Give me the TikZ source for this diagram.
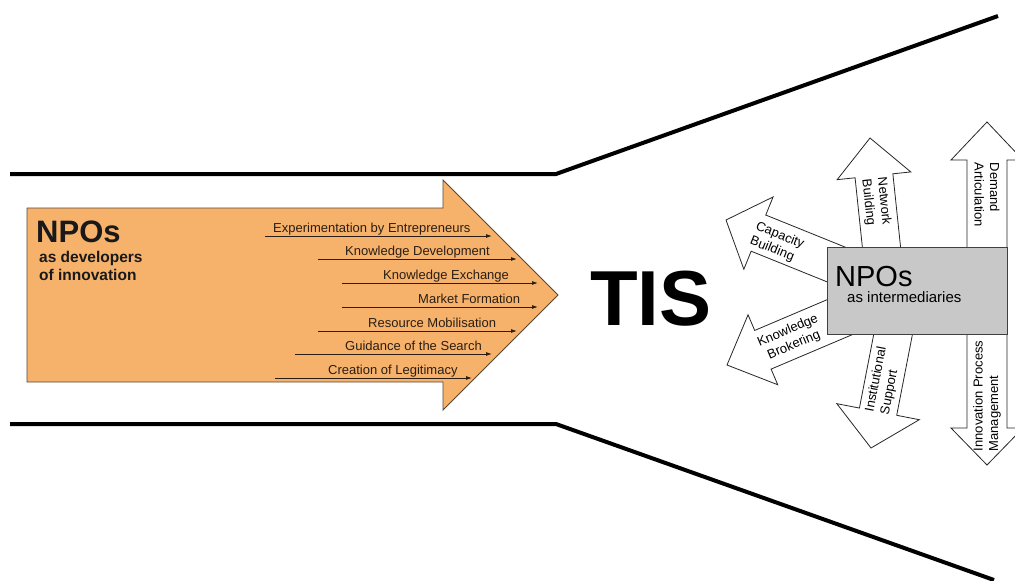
\documentclass[tikz,border=0pt]{standalone}
\usepackage{fontspec}
\setmainfont{Liberation Sans}
\usetikzlibrary{arrows.meta}
\definecolor{orangefill}{HTML}{F6B26B}
\definecolor{orangeline}{HTML}{5B4636}
\definecolor{boxgray}{HTML}{C8C8C8}
\definecolor{txtdark}{HTML}{2A1E14}
\tikzset{
  funnel/.style={line width=4pt, black, line join=miter},
  fnlab/.style={anchor=base west, inner sep=0pt, text=txtdark, font=\fontsize{13}{15}\selectfont},
  fnarrow/.style={line width=0.9pt, txtdark, -{Latex[length=6pt,width=4pt]}},
  blockarrow/.style={draw=black!85, fill=white, line width=0.8pt, line join=miter},
  blocklab/.style={inner sep=0pt, font=\fontsize{13}{15.5}\selectfont},
  devlab/.style={anchor=base west, inner sep=0pt, text=black!90, font=\fontsize{15.5}{18}\selectfont\bfseries},
}
\newcommand{\blockarr}[6]{%
  \begin{scope}[shift={(#1)},rotate=#2]
    \draw[blockarrow] (0,0) -- (#3,#4) -- (#3,#5) -- (#6,#5) -- (#6,-#5) -- (#3,-#5) -- (#3,-#4) -- cycle;
  \end{scope}}
\begin{document}
\begin{tikzpicture}[x=1pt,y=-1pt]
\useasboundingbox (0,0) rectangle (1015,581);
\fill[white] (0,0) rectangle (1015,581);
\clip (0,0) rectangle (1015,581);

% funnel
\coordinate (tl) at (10,174); \coordinate (tm) at (556,174); \coordinate (tr) at (998,16);
\coordinate (bl) at (10,424); \coordinate (bm) at (556,424); \coordinate (br) at (994,580);
\draw[funnel] (tl) -- (tm) -- (tr);
\draw[funnel] (bl) -- (bm) -- (br);

% orange arrow
\draw[fill=orangefill, draw=orangeline, line width=0.8pt, line join=miter]
  (27,208) -- (443,208) -- (443,180) -- (558,295) -- (443,410) -- (443,382) -- (27,382) -- cycle;

\node[anchor=base west, inner sep=0pt, text=black!90, font=\fontsize{31}{31}\selectfont\bfseries] (npo1) at (36,242) {NPOs};
\node[devlab] (dev1) at (39,262) {as developers};
\node[devlab] (dev2) at (39,280) {of innovation};

% functions
\coordinate (a1s) at (265,236); \coordinate (a1e) at (492,236);
\coordinate (a2s) at (318,259); \coordinate (a2e) at (517,259);
\coordinate (a3s) at (342,283); \coordinate (a3e) at (538,283);
\coordinate (a4s) at (342,307); \coordinate (a4e) at (538,307);
\coordinate (a5s) at (318,331); \coordinate (a5e) at (517,331);
\coordinate (a6s) at (295,354); \coordinate (a6e) at (492,354);
\coordinate (a7s) at (275,378); \coordinate (a7e) at (472,378);
\draw[fnarrow] (a1s) -- (a1e);
\draw[fnarrow] (a2s) -- (a2e);
\draw[fnarrow] (a3s) -- (a3e);
\draw[fnarrow] (a4s) -- (a4e);
\draw[fnarrow] (a5s) -- (a5e);
\draw[fnarrow] (a6s) -- (a6e);
\draw[fnarrow] (a7s) -- (a7e);
\node[fnlab] (f1) at (273,232) {Experimentation by Entrepreneurs};
\node[fnlab] (f2) at (345,255) {Knowledge Development};
\node[fnlab] (f3) at (383,279) {Knowledge Exchange};
\node[fnlab] (f4) at (418,303) {Market Formation};
\node[fnlab] (f5) at (368,327) {Resource Mobilisation};
\node[fnlab] (f6) at (345,350) {Guidance of the Search};
\node[fnlab] (f7) at (328,374) {Creation of Legitimacy};

% TIS
\node[anchor=base west, inner sep=0pt, font=\fontsize{78}{78}\selectfont\bfseries] (tis) at (590,325) {TIS};

% block arrows
\blockarr{726,220}{-22}{35}{39}{19.5}{150}
\blockarr{727,365}{23}{39}{38}{21}{140}
\blockarr{870,138}{-84}{38}{37}{19}{130}
\blockarr{871,448}{79}{37}{42}{19}{130}
\blockarr{987,122}{-90}{38}{36}{20}{140}
\blockarr{987,465}{90}{37}{36}{20}{140}

% intermediary box
\node[draw=black!75, fill=boxgray, line width=0.8pt, minimum width=180pt, minimum height=87pt, anchor=north west, inner sep=0pt] (npobox) at (827,247) {};
\node[anchor=base west, inner sep=0pt, font=\fontsize{29}{29}\selectfont] (npo2) at (835,286) {NPOs};
\node[anchor=base west, inner sep=0pt, font=\fontsize{15}{15}\selectfont] (inter) at (847,302) {as intermediaries};

% block arrow labels
\node[blocklab, rotate=-22, align=left] (cap) at (777,243) {Capacity\\Building};
\node[blocklab, rotate=23, align=center] (kb) at (791,338) {Knowledge\\Brokering};
\node[blocklab, rotate=-84, align=left] (nb) at (876,202) {Network\\Building};
\node[blocklab, rotate=79, align=left] (is) at (884,381) {Institutional\\Support};
\node[blocklab, rotate=-90, align=left] (da) at (987,195) {Demand\\Articulation};
\node[blocklab, rotate=90, align=left] (ipm) at (987,396) {Innovation Process\\Management};
\end{tikzpicture}
\end{document}
